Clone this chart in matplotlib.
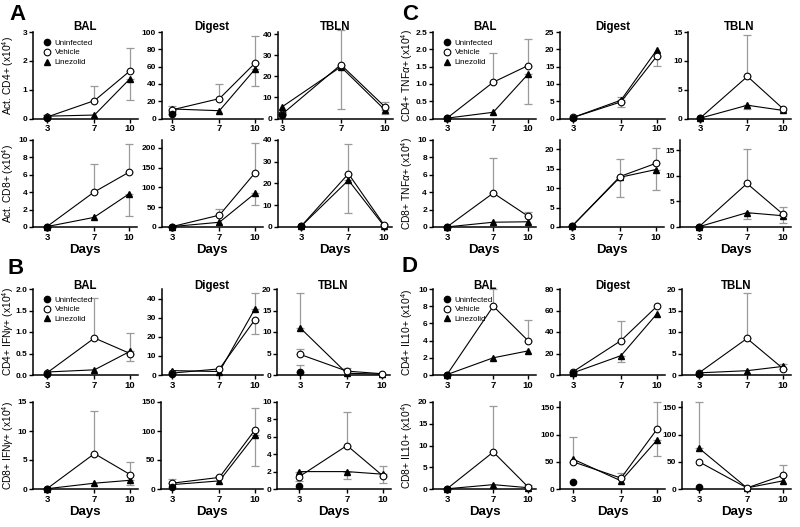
import matplotlib
matplotlib.use("Agg")
import matplotlib.pyplot as plt
from matplotlib.lines import Line2D
import numpy as np

plt.rcParams['font.family'] = ['Liberation Sans', 'DejaVu Sans']
plt.rcParams['mathtext.fontset'] = 'custom'
plt.rcParams['mathtext.rm'] = 'Liberation Sans'
plt.rcParams['mathtext.it'] = 'Liberation Sans:italic'
plt.rcParams['mathtext.bf'] = 'Liberation Sans:bold'

# ---------------- data ----------------
days = [3, 7, 10]
tissues = ["BAL", "Digest", "TBLN"]
legend_labels = ["Uninfected", "Vehicle", "Linezolid"]

# Each row: per tissue (BAL, Digest, TBLN). Uninfected only at day 3.
# *_end = value at the end of the error bar (above or below the mean)

# Panel A, top: Act. CD4+
A1_uninf = [0.03, 5, 1.5]
A1_uninf_end = [0.12, 8, 3]
A1_veh = [[0.05, 0.62, 1.65], [10, 23, 64], [2, 25.5, 5.5]]
A1_veh_end = [[0.12, 1.12, 2.45], [14, 40, 95], [3, 42, 8]]
A1_lin = [[0.08, 0.12, 1.38], [11, 9, 57], [5.5, 24.5, 4]]
A1_lin_end = [[0.08, 0.12, 0.63], [11, 9, 37], [5.5, 4.5, 2]]

# Panel A, bottom: Act. CD8+
A2_uninf = [0.05, 0.5, 0.3]
A2_uninf_end = [0.05, 0.5, 0.3]
A2_veh = [[0.05, 4.0, 6.3], [1, 30, 137], [0.3, 24.5, 1.0]]
A2_veh_end = [[0.05, 7.2, 9.5], [1, 46, 213], [0.3, 38, 1.5]]
A2_lin = [[0.05, 1.1, 3.8], [1, 12, 85], [0.3, 21.5, 0.5]]
A2_lin_end = [[0.05, 1.1, 1.3], [1, 12, 56], [0.3, 6.5, 0.5]]

# Panel B, top: CD4+ IFNg+
B1_uninf = [0.03, 0.5, 0.8]
B1_uninf_end = [0.03, 0.5, 2.4]
B1_veh = [[0.05, 0.86, 0.5], [1, 3.2, 29], [4.8, 0.9, 0.3]]
B1_veh_end = [[0.05, 1.78, 0.32], [1, 3.2, 21.5], [6, 1.7, 0.3]]
B1_lin = [[0.07, 0.12, 0.55], [2.3, 1.8, 34.7], [11, 0.4, 0.2]]
B1_lin_end = [[0.07, 0.12, 0.98], [2.3, 1.8, 43], [19, 0.4, 0.2]]

# Panel B, bottom: CD8+ IFNg+
B2_uninf = [0.05, 4, 0.3]
B2_uninf_end = [0.05, 4, 0.3]
B2_veh = [[0.05, 6.1, 2.5], [10, 20, 102], [1.4, 5.0, 1.5]]
B2_veh_end = [[0.05, 13.5, 4.7], [17, 22, 140], [1.4, 8.8, 2.6]]
B2_lin = [[0.05, 1.0, 1.5], [7.5, 14, 93], [2.0, 2.0, 1.7]]
B2_lin_end = [[0.05, 1.0, 0.7], [7.5, 14, 40], [0.95, 1.1, 0.7]]

# Panel C, top: CD4+ TNFa+
C1_uninf = [0.01, 0.2, 0.05]
C1_uninf_end = [0.01, 0.2, 0.05]
C1_veh = [[0.01, 1.05, 1.53], [0.3, 4.8, 18.1], [0.05, 7.3, 1.7]]
C1_veh_end = [[0.01, 1.88, 2.3], [0.3, 3.4, 15.3], [0.05, 14.5, 1.7]]
C1_lin = [[0.01, 0.18, 1.28], [0.3, 5.3, 19.9], [0.05, 2.3, 1.4]]
C1_lin_end = [[0.01, 0.18, 0.43], [0.3, 6.1, 19.9], [0.05, 1.6, 1.4]]

# Panel C, bottom: CD8+ TNFa+
C2_uninf = [0.01, 0.2, 0.05]
C2_uninf_end = [0.01, 0.2, 0.05]
C2_veh = [[0.01, 3.9, 1.25], [0.2, 13, 16.4], [0.05, 8.5, 2.5]]
C2_veh_end = [[0.01, 7.9, 1.7], [0.2, 17.4, 20.3], [0.05, 15.3, 4.0]]
C2_lin = [[0.01, 0.55, 0.6], [0.2, 12.8, 14.8], [0.05, 2.8, 2.2]]
C2_lin_end = [[0.01, 0.55, 0.6], [0.2, 7.8, 9.4], [0.05, 1.5, 0.7]]

# Panel D, top: CD4+ IL10+
D1_uninf = [0.05, 2, 0.3]
D1_uninf_end = [0.05, 2, 0.3]
D1_veh = [[0.05, 8.0, 4.0], [3, 32, 64], [0.5, 8.5, 1.5]]
D1_veh_end = [[0.05, 10, 6.4], [3, 50, 64], [0.5, 19, 2.5]]
D1_lin = [[0.05, 2.0, 2.8], [2, 18, 57], [0.5, 1.0, 2.0]]
D1_lin_end = [[0.05, 2.0, 2.8], [2, 12, 57], [0.5, 1.0, 2.0]]

# Panel D, bottom: CD8+ IL10+
D2_uninf = [0.05, 12, 3]
D2_uninf_end = [0.05, 12, 3]
D2_veh = [[0.05, 8.5, 0.5], [50, 20, 110], [50, 2, 25]]
D2_veh_end = [[0.05, 19, 1.0], [95, 30, 160], [50, 2, 45]]
D2_lin = [[0.05, 1.0, 0.3], [55, 15, 90], [75, 2, 15]]
D2_lin_end = [[0.05, 1.0, 0.3], [55, 15, 60], [160, 2, 15]]

ylabels = {
    "A1": "Act. CD4+ (x10$^4$)", "A2": "Act. CD8+ (x10$^4$)",
    "B1": "CD4+ IFN$\\gamma$+ (x10$^4$)", "B2": "CD8+ IFN$\\gamma$+ (x10$^4$)",
    "C1": "CD4+ TNF$\\alpha$+ (x10$^4$)", "C2": "CD8+ TNF$\\alpha$+ (x10$^4$)",
    "D1": "CD4+ IL10+ (x10$^4$)", "D2": "CD8+ IL10+ (x10$^4$)",
}
ymaxes = {
    "A1": [3, 100, 41], "A2": [10, 220, 40],
    "B1": [2.0, 45, 20], "B2": [15, 150, 10],
    "C1": [2.5, 25, 15], "C2": [10, 22.4, 17],
    "D1": [10, 80, 20], "D2": [20, 160, 160],
}
ysteps = {
    "A1": [1, 20, 10], "A2": [2, 50, 10],
    "B1": [0.5, 10, 5], "B2": [5, 50, 2],
    "C1": [0.5, 5, 5], "C2": [2, 5, 5],
    "D1": [2, 20, 5], "D2": [5, 50, 50],
}

rows = {
    "A1": (A1_uninf, A1_uninf_end, A1_veh, A1_veh_end, A1_lin, A1_lin_end),
    "A2": (A2_uninf, A2_uninf_end, A2_veh, A2_veh_end, A2_lin, A2_lin_end),
    "B1": (B1_uninf, B1_uninf_end, B1_veh, B1_veh_end, B1_lin, B1_lin_end),
    "B2": (B2_uninf, B2_uninf_end, B2_veh, B2_veh_end, B2_lin, B2_lin_end),
    "C1": (C1_uninf, C1_uninf_end, C1_veh, C1_veh_end, C1_lin, C1_lin_end),
    "C2": (C2_uninf, C2_uninf_end, C2_veh, C2_veh_end, C2_lin, C2_lin_end),
    "D1": (D1_uninf, D1_uninf_end, D1_veh, D1_veh_end, D1_lin, D1_lin_end),
    "D2": (D2_uninf, D2_uninf_end, D2_veh, D2_veh_end, D2_lin, D2_lin_end),
}

# ---------------- layout (pixels) ----------------
W, H = 800, 527
row_y = {"A1": (118.5, 32), "A2": (227, 140), "B1": (375, 289), "B2": (489, 402),
         "C1": (118.5, 32), "C2": (227, 140), "D1": (375, 289), "D2": (489, 402)}
col_x = {
    "A1": [(33, 47, 130), (161.5, 172, 255), (277.5, 282, 385)],
    "A2": [(33, 47, 129), (161.5, 172, 255), (277.5, 301, 384)],
    "B1": [(33, 47, 130), (161.5, 172, 255), (277, 300, 382)],
    "B2": [(32.5, 47, 130), (161, 172, 255), (277, 299, 383)],
    "C1": [(433, 447, 528), (560, 573, 657), (688, 700, 783)],
    "C2": [(432.5, 447, 528), (560, 572, 656), (680, 699, 783)],
    "D1": [(433, 447, 528), (560, 573, 657), (682, 699, 783)],
    "D2": [(433, 447, 528), (560, 573, 657), (682, 699, 783)],
}

fig = plt.figure(figsize=(8.0, 5.27), dpi=100)

def fx(px):
    return px / W

def fy(py):
    return 1 - py / H

ERR_C = "#9a9a9a"

def draw_err(ax, x, val, end):
    d = end - val
    if abs(d) < 1e-9:
        return
    lo, up = (0, d) if d > 0 else (-d, 0)
    ax.errorbar([x], [val], yerr=[[lo], [up]], fmt='none', ecolor=ERR_C,
                elinewidth=0.9, capsize=3, capthick=0.9, zorder=2, clip_on=False)

for key, data in rows.items():
    uninf, uninf_end, veh, veh_end, lin, lin_end = data
    zero, top = row_y[key]
    for j in range(3):
        spine, x3, x10 = col_x[key][j]
        right = x10 + 8
        ax = fig.add_axes([fx(spine), fy(zero), fx(right - spine), (zero - top) / H])
        ppd = (x10 - x3) / 7.0
        ax.set_xlim(3 - (x3 - spine) / ppd, 10 + (right - x10) / ppd)
        ymax = ymaxes[key][j]
        ax.set_ylim(0, ymax)
        step = ysteps[key][j]
        ticks = np.arange(0, ymax + 1e-9, step)
        ax.set_yticks(ticks)
        if step < 1:
            ax.set_yticklabels([f"{t:.1f}" for t in ticks])
        else:
            ax.set_yticklabels([f"{t:g}" for t in ticks])
        ax.set_xticks(days)
        ax.set_xticklabels([str(d) for d in days])
        for s in ("top", "right"):
            ax.spines[s].set_visible(False)
        for s in ("left", "bottom"):
            ax.spines[s].set_linewidth(1.1)
        ax.tick_params(direction='out', length=3, width=1.0, pad=1.0)
        for lab in ax.get_yticklabels():
            lab.set_fontsize(6.0)
            lab.set_fontweight('bold')
        for lab in ax.get_xticklabels():
            lab.set_fontsize(6.8)
            lab.set_fontweight('bold')
        ax.patch.set_alpha(0)

        for i, d in enumerate(days):
            draw_err(ax, d, veh[j][i], veh_end[j][i])
            draw_err(ax, d, lin[j][i], lin_end[j][i])
        draw_err(ax, 3, uninf[j], uninf_end[j])

        ax.plot(days, lin[j], color='black', lw=0.8, marker='^', ms=4.8,
                mfc='black', mec='black', zorder=4, clip_on=False)
        ax.plot(days, veh[j], color='black', lw=0.8, marker='o', ms=4.8,
                mfc='white', mec='black', mew=0.8, zorder=5, clip_on=False)
        ax.plot([3], [uninf[j]], linestyle='none', marker='o', ms=4.5,
                mfc='black', mec='black', zorder=6, clip_on=False)

        if key.endswith("1"):
            ty = top - 5 if key[0] in "AC" else top - 3
            fig.text(fx((spine + right) / 2), fy(ty), tissues[j], ha='center',
                     va='center', fontsize=8.3, fontweight='bold')
            if j == 0:
                handles = [
                    Line2D([], [], ls='none', marker='o', ms=4.5, mfc='black', mec='black'),
                    Line2D([], [], ls='none', marker='o', ms=4.8, mfc='white', mec='black', mew=0.8),
                    Line2D([], [], ls='none', marker='^', ms=4.8, mfc='black', mec='black'),
                ]
                ax.legend(handles, legend_labels, loc='upper left',
                          bbox_to_anchor=(0.10, 0.92), frameon=False,
                          fontsize=5.8, handlelength=0.8, handletextpad=0.6,
                          labelspacing=0.28, borderaxespad=0, borderpad=0)
        else:
            fig.text(fx((spine + right) / 2), fy(zero + 23), "Days", ha='center',
                     va='center', fontsize=9.5, fontweight='bold')

    lx = 8 if key[0] in "AB" else 407
    fig.text(fx(lx), fy((zero + top) / 2), ylabels[key], rotation=90,
             ha='center', va='center', fontsize=7.4)

for letter, (px, py) in {"A": (17, 15), "B": (16, 269), "C": (410, 15), "D": (410, 267)}.items():
    fig.text(fx(px), fy(py), letter, ha='center', va='center', fontsize=16, fontweight='bold')

fig.savefig("out.png", dpi=100)
